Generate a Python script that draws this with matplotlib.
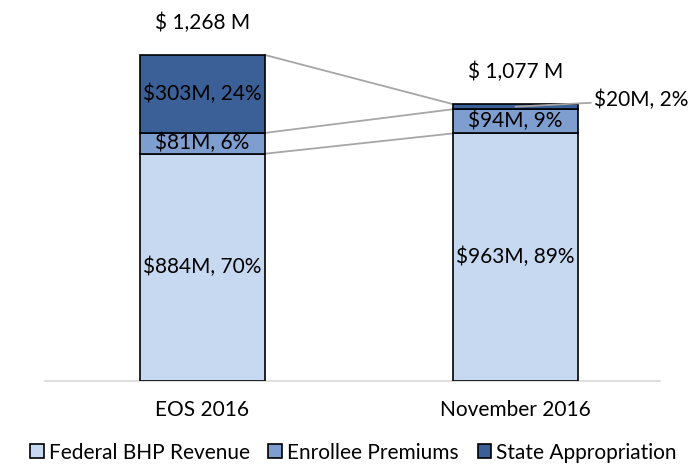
import matplotlib
matplotlib.use("Agg")
import matplotlib.pyplot as plt
import numpy as np

categories = ["EOS 2016", "November 2016"]
series_names = ["Federal BHP Revenue", "Enrollee Premiums", "State Appropriation"]
federal = [884, 963]
premiums = [81, 94]
state = [303, 20]
federal_pct = [70, 89]
premiums_pct = [6, 9]
state_pct = [24, 2]
totals = ["$ 1,268 M", "$ 1,077 M"]

colors = ["#C6D9F1", "#7F9ED0", "#3B6098"]
plt.rcParams['font.family'] = ['Lato', 'DejaVu Sans']
FS = 15

fig = plt.figure(figsize=(6.93, 4.65), dpi=100)
ax = fig.add_axes([45/693, (465-381)/465, (660-45)/693, (381-20)/465])

x = np.arange(len(categories))
w = 0.4
data = [federal, premiums, state]
pcts = [federal_pct, premiums_pct, state_pct]
bottoms = np.zeros(len(categories))
tops_list = []
for i, (vals, c, name) in enumerate(zip(data, colors, series_names)):
    vals = np.array(vals, dtype=float)
    ax.bar(x, vals, w, bottom=bottoms, color=c, edgecolor="black", linewidth=1.2, label=name, zorder=3)
    tops = bottoms + vals
    tops_list.append(tops.copy())
    for j in range(len(categories)):
        label = f"${int(vals[j])}M, {pcts[i][j]}%"
        if i == 2 and j == 1:
            continue
        ax.text(x[j], bottoms[j] + vals[j]/2, label, ha="center", va="center", fontsize=FS, color="black", zorder=4)
    bottoms = tops

# connector lines between segment tops
for tops in tops_list:
    ax.plot([x[0] + w/2, x[1] - w/2], [tops[0], tops[1]], color="#A6A6A6", lw=1.3, zorder=2)

# small segment label with leader
y_small = tops_list[1][1] + state[1]/2
ax.annotate(f"${state[1]}M, {state_pct[1]}%", xy=(x[1], y_small), xytext=(x[1] + 0.25, y_small + 25),
            fontsize=FS, va="center", ha="left",
            arrowprops=dict(arrowstyle="-", color="#A6A6A6", lw=1.3, shrinkA=0, shrinkB=0), zorder=4)

# totals
for j in range(len(categories)):
    ax.text(x[j], tops_list[2][j] + 125, totals[j], ha="center", va="center", fontsize=FS)

ax.set_xlim(-0.503, 1.462)
ax.set_ylim(0, (381-20)/0.2571)
ax.set_xticks(x)
ax.set_xticklabels(categories, fontsize=FS)
ax.tick_params(axis="x", length=0, pad=14)
ax.set_yticks([])
for s in ["top", "right", "left"]:
    ax.spines[s].set_visible(False)
ax.spines["bottom"].set_color("#D9D9D9")
ax.spines["bottom"].set_linewidth(1.2)

leg = fig.legend(loc="lower center", bbox_to_anchor=(0.51, -0.035), ncol=3, frameon=False, fontsize=FS,
                 handlelength=0.65, handleheight=0.65, handletextpad=0.25, columnspacing=0.9)
fig.savefig("out.png", dpi=100)
